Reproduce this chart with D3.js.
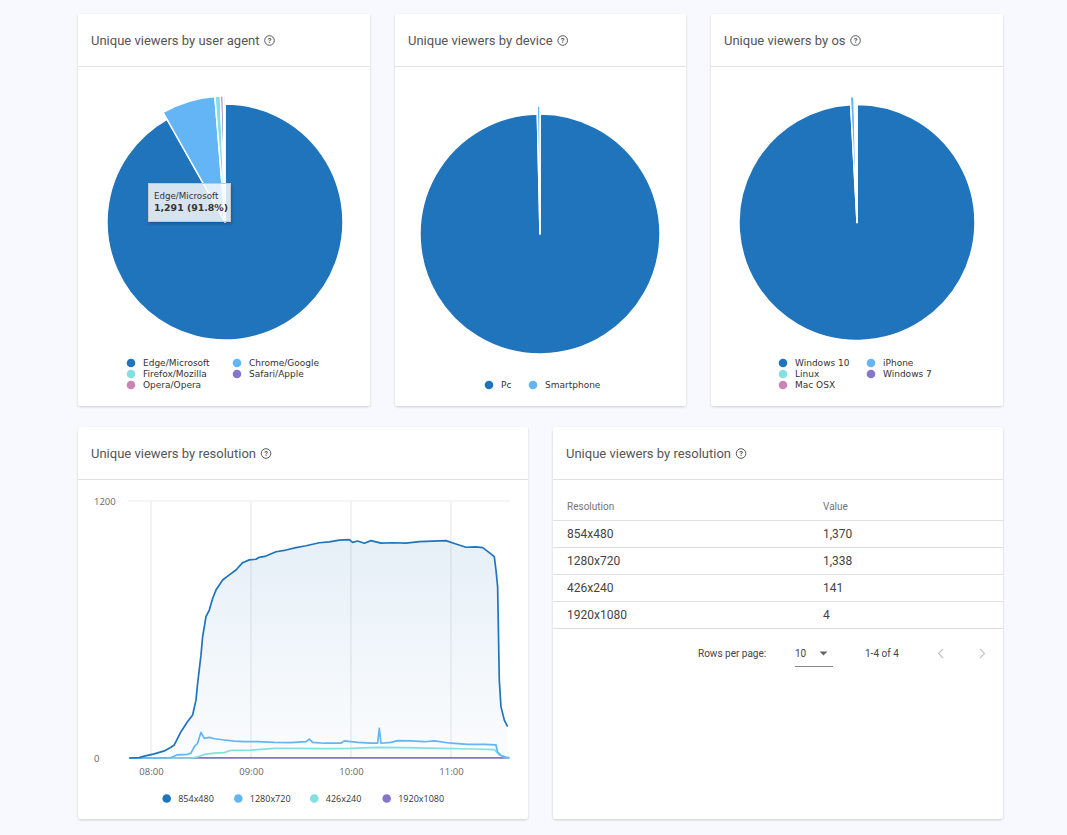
<!DOCTYPE html>
<html>
<head>
<meta charset="utf-8">
<script src="https://cdn.jsdelivr.net/npm/d3@7"></script>
<style>
  html, body { margin: 0; padding: 0; background: #f7f9fe; }
  svg { display: block; }
  .title { font-family: Roboto, "Noto Sans", sans-serif; font-size: 13px; fill: #555; }
  .leg { font-family: "DejaVu Sans", Verdana, sans-serif; font-size: 9px; fill: #333; }
  .leg2 { font-family: "Open Sans", "Noto Sans", sans-serif; font-size: 9px; fill: #333; }
  .axis text { font-family: "Open Sans", "Noto Sans", sans-serif; font-size: 9.5px; fill: #666; }
  .tbl { font-family: Roboto, "Noto Sans", sans-serif; }
</style>
</head>
<body>
<svg id="chart" width="1067" height="835"></svg>
<script>
// ---------- data ----------
const uaLabels = ["Edge/Microsoft", "Chrome/Google", "Firefox/Mozilla", "Safari/Apple", "Opera/Opera"];
const uaValues = [1291, 97, 10, 5, 3];
const deviceLabels = ["Pc", "Smartphone"];
const deviceValues = [1401, 5];
const osLabels = ["Windows 10", "iPhone", "Linux", "Windows 7", "Mac OSX"];
const osValues = [1395, 7, 3, 1, 1];

const resLabels = ["854x480", "1280x720", "426x240", "1920x1080"];
const res854Times = ["07:47","07:53","07:56","08:02","08:08","08:12","08:14","08:18","08:22","08:25","08:27","08:28","08:30","08:31","08:33","08:35","08:37","08:39","08:43","08:47","08:51","08:55","08:59","09:03","09:05","09:09","09:15","09:21","09:27","09:33","09:41","09:47","09:53","09:59","10:01","10:04","10:08","10:12","10:18","10:25","10:33","10:41","10:49","10:57","11:03","11:09","11:15","11:19","11:23","11:26","11:27","11:28","11:29","11:30","11:32","11:34"];
const res854Values = [0,2,9,19,33,50,61,123,170,201,270,349,480,566,660,691,745,784,831,855,878,912,925,928,937,943,963,971,982,991,1005,1009,1017,1020,1007,1013,1003,1015,1003,1005,1003,1010,1013,1015,999,984,986,982,959,940,878,800,364,240,177,146];
const res1280Times = ["07:47","08:04","08:12","08:16","08:22","08:24","08:26","08:28","08:30","08:32","08:35","08:38","08:44","08:50","08:56","09:04","09:14","09:24","09:33","09:35","09:37","09:44","09:54","09:56","10:04","10:12","10:16","10:17","10:18","10:24","10:28","10:36","10:44","10:50","11:00","11:10","11:20","11:27","11:28","11:30","11:33","11:35"];
const res1280Values = [0,0,2,15,17,23,53,69,120,92,96,90,84,79,76,76,73,72,76,88,73,69,69,80,73,69,69,139,69,73,81,80,76,80,69,64,64,61,27,12,3,2];
const res426Times = ["07:47","08:24","08:28","08:32","08:38","08:44","08:48","09:00","09:14","09:24","09:44","10:00","10:16","10:32","10:54","11:14","11:26","11:29","11:33","11:35"];
const res426Values = [0,0,5,17,23,25,36,37,45,45,44,45,50,48,45,42,39,15,3,1];
const res1920Times = ["07:47","08:30","09:30","10:30","11:30","11:35"];
const res1920Values = [0,1,1,1,1,0];

const tableRes = ["854x480", "1280x720", "426x240", "1920x1080"];
const tableVals = [1370, 1338, 141, 4];
const xTicks = ["08:00", "09:00", "10:00", "11:00"];
const yTicks = [0, 1200];

const colors = ["#2074bb", "#64b5f6", "#84e0e0", "#8576c8", "#c985b5"];

// ---------- page ----------
const svg = d3.select("#chart");
const defs = svg.append("defs");
const f = defs.append("filter").attr("id", "shadow").attr("x", "-5%").attr("y", "-5%").attr("width", "110%").attr("height", "110%");
f.append("feDropShadow").attr("dx", 0).attr("dy", 1).attr("stdDeviation", 1.3).attr("flood-color", "#000").attr("flood-opacity", 0.18);
const tf = defs.append("filter").attr("id", "tshadow").attr("x", "-20%").attr("y", "-20%").attr("width", "140%").attr("height", "150%");
tf.append("feDropShadow").attr("dx", 1).attr("dy", 2).attr("stdDeviation", 1.5).attr("flood-color", "#000").attr("flood-opacity", 0.25);
const grad = defs.append("linearGradient").attr("id", "areaGrad").attr("x1", 0).attr("y1", 0).attr("x2", 0).attr("y2", 1);
grad.append("stop").attr("offset", "0%").attr("stop-color", "#2074bb").attr("stop-opacity", 0.11);
grad.append("stop").attr("offset", "100%").attr("stop-color", "#2074bb").attr("stop-opacity", 0.02);

const cards = [
  {x: 78, y: 14, w: 292, h: 392, title: "Unique viewers by user agent"},
  {x: 395, y: 14, w: 291, h: 392, title: "Unique viewers by device"},
  {x: 711, y: 14, w: 292, h: 392, title: "Unique viewers by os"},
  {x: 78, y: 427, w: 450, h: 392, title: "Unique viewers by resolution"},
  {x: 553, y: 427, w: 450, h: 392, title: "Unique viewers by resolution"}
];
cards.forEach(c => {
  const g = svg.append("g");
  g.append("rect").attr("x", c.x).attr("y", c.y).attr("width", c.w).attr("height", c.h)
    .attr("rx", 3).attr("fill", "#fff").attr("filter", "url(#shadow)");
  g.append("line").attr("x1", c.x).attr("x2", c.x + c.w).attr("y1", c.y + 52.5).attr("y2", c.y + 52.5)
    .attr("stroke", "#e2e2e2").attr("stroke-width", 1);
  const t = g.append("text").attr("class", "title").attr("x", c.x + 13).attr("y", c.y + 31).text(c.title);
  const tw = t.node().getComputedTextLength();
  const cx = c.x + 13 + tw + 10, cy = c.y + 26.5;
  g.append("circle").attr("cx", cx).attr("cy", cy).attr("r", 4.8).attr("fill", "none").attr("stroke", "#555").attr("stroke-width", 1);
  g.append("text").attr("x", cx).attr("y", cy + 2.8).attr("text-anchor", "middle")
    .attr("font-family", "Roboto, sans-serif").attr("font-size", "7.5px").attr("font-weight", "bold").attr("fill", "#555").text("?");
});

// ---------- pies ----------
function drawPie(labels, values, cx, cy, r, legendPos) {
  const g = svg.append("g").attr("transform", `translate(${cx},${cy})`);
  const pie = d3.pie().sort(null).value(d => d)(values);
  const arcMain = d3.arc().innerRadius(0).outerRadius(r);
  const arcBig = d3.arc().innerRadius(0).outerRadius(r + 8);
  g.selectAll("path").data(pie).join("path")
    .attr("d", (d, i) => i === 0 ? arcMain(d) : arcBig(d))
    .attr("fill", (d, i) => colors[i])
    .attr("stroke", "#fff").attr("stroke-width", 1.5).attr("stroke-linejoin", "round");
  const lg = svg.append("g");
  labels.forEach((lab, i) => {
    const p = legendPos[i];
    lg.append("circle").attr("cx", p[0]).attr("cy", p[1]).attr("r", 4.3).attr("fill", colors[i]);
    lg.append("text").attr("class", "leg").attr("x", p[0] + 12).attr("y", p[1] + 3.3).text(lab);
  });
  return g;
}
drawPie(uaLabels, uaValues, 225, 222, 118,
  [[131, 363], [237, 363], [131, 374], [237, 374], [131, 385]]);
drawPie(deviceLabels, deviceValues, 540, 234, 120, [[489, 385], [533, 385]]);
drawPie(osLabels, osValues, 857, 222.5, 118,
  [[783, 363], [871, 363], [783, 374], [871, 374], [783, 385]]);

// tooltip on user agent pie
const tip = svg.append("g");
tip.append("rect").attr("x", 148.5).attr("y", 183.5).attr("width", 82).attr("height", 38)
  .attr("fill", "rgba(255,255,255,0.8)").attr("stroke", "#c8c8c8").attr("stroke-width", 1).attr("filter", "url(#tshadow)");
tip.append("text").attr("x", 154).attr("y", 199).attr("font-family", "DejaVu Sans, sans-serif").attr("font-size", "8.7px").attr("fill", "#333")
  .text(uaLabels[0]);
tip.append("text").attr("x", 154).attr("y", 211).attr("font-family", "DejaVu Sans, sans-serif").attr("font-size", "9.4px").attr("font-weight", "bold").attr("fill", "#333")
  .text(d3.format(",")(uaValues[0]) + " (" + d3.format(".1%")(uaValues[0] / d3.sum(uaValues)) + ")");

// ---------- line chart ----------
const parse = d3.timeParse("%H:%M");
const x = d3.scaleTime().domain([parse("07:47"), parse("11:35")]).range([129.3, 509.3]);
const y = d3.scaleLinear().domain([0, 1200]).range([758, 501]);
const lc = svg.append("g");

// gridlines
lc.append("g").selectAll("line").data(xTicks).join("line")
  .attr("x1", d => x(parse(d))).attr("x2", d => x(parse(d))).attr("y1", y(1200)).attr("y2", y(0))
  .attr("stroke", "#e3e5ea").attr("stroke-width", 1);
lc.append("g").selectAll("line").data(yTicks).join("line")
  .attr("x1", 128).attr("x2", 510).attr("y1", d => y(d)).attr("y2", d => y(d))
  .attr("stroke", "#e9ebef").attr("stroke-width", 1);

const xAxis = lc.append("g").attr("class", "axis").attr("transform", "translate(0,758)")
  .call(d3.axisBottom(x).tickValues(xTicks.map(parse)).tickFormat(d3.timeFormat("%H:%M")).tickSize(0).tickPadding(10));
xAxis.select(".domain").remove();
const yAxis = lc.append("g").attr("class", "axis").attr("transform", "translate(129,0)")
  .call(d3.axisLeft(y).tickValues(yTicks).tickFormat(d3.format("d")).tickSize(0).tickPadding(10));
yAxis.select(".domain").remove();
yAxis.selectAll("text").attr("text-anchor", "start").attr("x", -35);

const series = [
  {label: resLabels[0], t: res854Times, v: res854Values, color: colors[0], fill: true},
  {label: resLabels[1], t: res1280Times, v: res1280Values, color: colors[1]},
  {label: resLabels[2], t: res426Times, v: res426Values, color: colors[2]},
  {label: resLabels[3], t: res1920Times, v: res1920Values, color: colors[3]}
];
const area = d3.area().x(d => x(d[0])).y0(y(0)).y1(d => y(d[1]));
const line = d3.line().x(d => x(d[0])).y(d => y(d[1]));
series.forEach(s => {
  const pts = s.t.map((t, i) => [parse(t), s.v[i]]);
  if (s.fill) lc.append("path").attr("d", area(pts)).attr("fill", "url(#areaGrad)");
});
series.slice().reverse().forEach(s => {
  const pts = s.t.map((t, i) => [parse(t), s.v[i]]);
  lc.append("path").attr("d", line(pts)).attr("fill", "none").attr("stroke", s.color)
    .attr("stroke-width", 1.7).attr("stroke-linejoin", "round");
});

// line legend
const legX = [166.7, 238.3, 314.3, 386.7];
series.forEach((s, i) => {
  lc.append("circle").attr("cx", legX[i]).attr("cy", 798.5).attr("r", 4.3).attr("fill", s.color);
  lc.append("text").attr("class", "leg2").attr("x", legX[i] + 11.5).attr("y", 801.6).text(s.label);
});

// ---------- table ----------
const tb = svg.append("g").attr("class", "tbl");
tb.append("text").attr("x", 567).attr("y", 509.5).attr("font-size", "10px").attr("fill", "#757575").text("Resolution");
tb.append("text").attr("x", 823).attr("y", 509.5).attr("font-size", "10px").attr("fill", "#757575").text("Value");
const rowY = d3.scaleLinear().domain([0, 1]).range([520.5, 547.5]);
tb.selectAll("line.div").data(d3.range(tableRes.length + 1)).join("line")
  .attr("x1", 553).attr("x2", 1003).attr("y1", d => rowY(d)).attr("y2", d => rowY(d))
  .attr("stroke", "#e0e0e0").attr("stroke-width", 1);
tableRes.forEach((r, i) => {
  tb.append("text").attr("x", 567).attr("y", rowY(i) + 17).attr("font-size", "12px").attr("fill", "#444").text(r);
  tb.append("text").attr("x", 823).attr("y", rowY(i) + 17).attr("font-size", "12px").attr("fill", "#444").text(d3.format(",")(tableVals[i]));
});
// pagination
tb.append("text").attr("x", 698).attr("y", 656.5).attr("font-size", "10px").attr("fill", "#444").text("Rows per page:");
tb.append("text").attr("x", 795).attr("y", 656.5).attr("font-size", "10px").attr("fill", "#444").text("10");
tb.append("path").attr("d", "M819.5,651.5 L827.5,651.5 L823.5,655.5 Z").attr("fill", "#666");
tb.append("line").attr("x1", 795).attr("x2", 833).attr("y1", 666.5).attr("y2", 666.5).attr("stroke", "#888").attr("stroke-width", 1);
tb.append("text").attr("x", 865).attr("y", 656.5).attr("font-size", "10px").attr("fill", "#444").text("1-4 of " + tableRes.length);
tb.append("path").attr("d", "M943,649 L938.5,653.5 L943,658").attr("fill", "none").attr("stroke", "#c4c4c4").attr("stroke-width", 1.2);
tb.append("path").attr("d", "M980,649 L984.5,653.5 L980,658").attr("fill", "none").attr("stroke", "#c4c4c4").attr("stroke-width", 1.2);
</script>
</body>
</html>
